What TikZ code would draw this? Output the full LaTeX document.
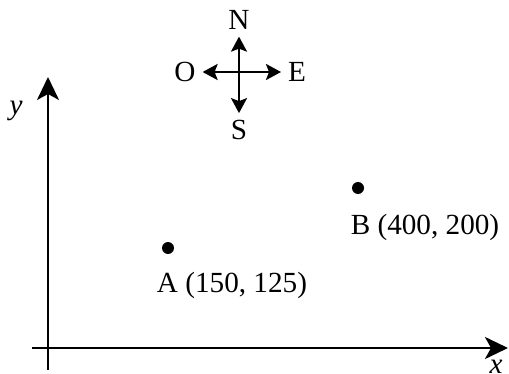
\documentclass[tikz,border=0pt]{standalone}
\usepackage{fontspec}
\setmainfont{Liberation Serif}
\usepackage{tikz}
\usetikzlibrary{arrows.meta, positioning}

\begin{document}
\begin{tikzpicture}[x=0.5pt, y=-0.5pt, font=\fontsize{14.6}{17}\selectfont]
        \useasboundingbox (0,0) rectangle (509,374);
        % axes
        \coordinate (ybot) at (48,370);
        \coordinate (ytop) at (48,77);
        \coordinate (xleft) at (32,348);
        \coordinate (xright) at (508,348);
        \draw[-{Stealth[length=11.5pt, width=11pt, inset=3pt]}, line width=1.25pt] (ybot) -- (ytop);
        \draw[-{Stealth[length=11.5pt, width=11pt, inset=3pt]}, line width=1.25pt] (xleft) -- (xright);
        \node (ylab) at (16,111) {\textit{y}};
        \node (xlab) at (496,367) {\textit{x}};
        % compass
        \node (north) at (239,20) {N};
        \node (south) at (239,130) {S};
        \node (west) at (185,72) {O};
        \node (east) at (297,72) {E};
        \draw[{Stealth[length=7.5pt, width=8pt, inset=1.5pt]}-{Stealth[length=7.5pt, width=8pt, inset=1.5pt]}, line width=1.2pt] (west) -- (east);
        \draw[{Stealth[length=7.5pt, width=8pt, inset=1.5pt]}-{Stealth[length=7.5pt, width=8pt, inset=1.5pt]}, line width=1.2pt] (north) -- (south);
        % points
        \node[circle, fill, inner sep=0pt, minimum size=6pt] (A) at (168,248) {};
        \node[circle, fill, inner sep=0pt, minimum size=6pt] (B) at (358,188) {};
        \node (Alab) at (232,285) {A (150, 125)};
        \node (Blab) at (425,227) {B (400, 200)};
      \end{tikzpicture}
\end{document}
